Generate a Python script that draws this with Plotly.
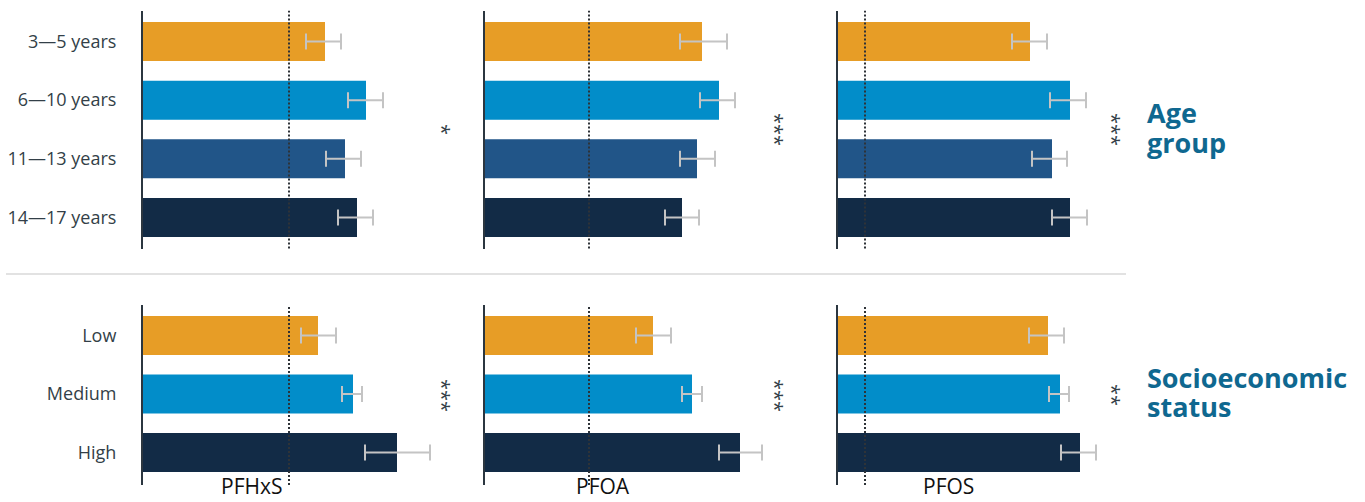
import plotly.graph_objects as go

# ---- data (concentration index, arbitrary units) ----
age_groups = ["3—5 years", "6—10 years", "11—13 years", "14—17 years"]
ses_groups = ["Low", "Medium", "High"]
chemicals = ["PFHxS", "PFOA", "PFOS"]

age_mean = {
    "PFHxS": [1.82, 2.23, 2.02, 2.14],
    "PFOA": [2.17, 2.34, 2.12, 1.97],
    "PFOS": [1.92, 2.32, 2.14, 2.32],
}
age_low = {
    "PFHxS": [1.63, 2.05, 1.83, 1.95],
    "PFOA": [1.95, 2.15, 1.95, 1.80],
    "PFOS": [1.74, 2.12, 1.94, 2.14],
}
age_high = {
    "PFHxS": [1.98, 2.40, 2.18, 2.30],
    "PFOA": [2.42, 2.50, 2.30, 2.14],
    "PFOS": [2.09, 2.48, 2.29, 2.49],
}
ses_mean = {
    "PFHxS": [1.75, 2.10, 2.54],
    "PFOA": [1.68, 2.07, 2.55],
    "PFOS": [2.10, 2.22, 2.42],
}
ses_low = {
    "PFHxS": [1.58, 1.99, 2.22],
    "PFOA": [1.51, 1.97, 2.34],
    "PFOS": [1.91, 2.11, 2.23],
}
ses_high = {
    "PFHxS": [1.93, 2.19, 2.87],
    "PFOA": [1.86, 2.17, 2.77],
    "PFOS": [2.26, 2.31, 2.58],
}
reference = {"PFHxS": 1.46, "PFOA": 1.04, "PFOS": 0.27}
age_signif = {"PFHxS": "*", "PFOA": "***", "PFOS": "***"}
ses_signif = {"PFHxS": "***", "PFOA": "***", "PFOS": "**"}

# ---- styling ----
W, H = 1365, 502
ORANGE, LIGHTBLUE, MIDBLUE, NAVY = "#E79D26", "#028DC9", "#215588", "#122B46"
age_colors = [ORANGE, LIGHTBLUE, MIDBLUE, NAVY]
ses_colors = [ORANGE, LIGHTBLUE, NAVY]
TEXT = "#333F48"
TEAL = "#0F6890"
ERR = "#C4C4C4"
FONT = "Open Sans"

panel_left = [143, 485, 838]   # px of each panel's value axis
panel_width = 300
x_range = [0, 3.0]
top_dom = [1 - 248.5 / H, 1 - 10.7 / H]
bot_dom = [1 - 485 / H, 1 - 305 / H]

fig = go.Figure()
layout = {}
shapes = []
annotations = []


def add_panel(idx, cats, means, lows, highs, colors):
    xa = f"x{idx}" if idx > 1 else "x"
    ya = f"y{idx}" if idx > 1 else "y"
    fig.add_trace(go.Bar(
        x=means, y=cats, orientation="h",
        marker=dict(color=colors, line=dict(width=0)),
        width=0.665,
        error_x=dict(
            type="data", symmetric=False,
            array=[h - m for h, m in zip(highs, means)],
            arrayminus=[m - l for m, l in zip(means, lows)],
            color=ERR, thickness=2, width=8,
        ),
        xaxis=xa, yaxis=ya, showlegend=False, hoverinfo="skip",
    ))
    return xa, ya


for row, (cats, means_d, lows_d, highs_d, colors, ydom, yrange) in enumerate([
    (age_groups, age_mean, age_low, age_high, age_colors, top_dom, [3.528, -0.525]),
    (ses_groups, ses_mean, ses_low, ses_high, ses_colors, bot_dom, [2.556, -0.521]),
]):
    for col, chem in enumerate(chemicals):
        idx = row * 3 + col + 1
        xa, ya = add_panel(idx, cats, means_d[chem], lows_d[chem], highs_d[chem], colors)
        xkey = "xaxis" if idx == 1 else f"xaxis{idx}"
        ykey = "yaxis" if idx == 1 else f"yaxis{idx}"
        layout[xkey] = dict(
            domain=[panel_left[col] / W, (panel_left[col] + panel_width) / W],
            range=x_range, visible=False, fixedrange=True, anchor=ya,
        )
        layout[ykey] = dict(
            domain=ydom, range=yrange, type="category",
            categoryorder="array", categoryarray=cats,
            showline=True, linecolor="#2B3640", linewidth=2,
            showgrid=False, zeroline=False, ticks="",
            showticklabels=(col == 0), ticklabelstandoff=21,
            tickfont=dict(family=FONT, size=18, color=TEXT),
            anchor=xa, fixedrange=True,
        )
        # reference level
        shapes.append(dict(
            type="line", xref=xa, yref=f"{ya} domain",
            x0=reference[chem], x1=reference[chem], y0=0, y1=1,
            line=dict(color="#2E3338", width=2, dash="2px,2px"),
            layer="above",
        ))

# significance markers
sig_x = [443, 776, 1113]
for col, chem in enumerate(chemicals):
    for yc, sig in [(129, age_signif[chem]), (395, ses_signif[chem])]:
        annotations.append(dict(
            xref="paper", yref="paper", x=sig_x[col] / W, y=1 - yc / H,
            text=sig, showarrow=False, textangle=90,
            xanchor="center", yanchor="middle",
            font=dict(family=FONT, size=20, color=TEXT),
        ))

# chemical names under the panels
for cx, chem in zip([251, 602.5, 948], chemicals):
    annotations.append(dict(
        xref="paper", yref="paper", x=cx / W, y=0,
        text=chem, showarrow=False, xanchor="center", yanchor="bottom",
        font=dict(family=FONT, size=21, color="#111111"),
    ))

# group headings
for text, yc in [("Age", 112.5), ("group", 142.5), ("Socioeconomic", 377.5), ("status", 406.5)]:
    annotations.append(dict(
        xref="paper", yref="paper", x=1145 / W, y=1 - yc / H,
        text=f"<b>{text}</b>", showarrow=False, xanchor="left", yanchor="middle",
        font=dict(family=FONT, size=27, color=TEAL),
    ))

# divider between the two groupings
shapes.append(dict(
    type="line", xref="paper", yref="paper",
    x0=6 / W, x1=1126 / W, y0=1 - 274 / H, y1=1 - 274 / H,
    line=dict(color="#D9D9D9", width=1.5),
))

fig.update_layout(
    width=W, height=H,
    margin=dict(l=0, r=0, t=0, b=0),
    paper_bgcolor="white", plot_bgcolor="white",
    shapes=shapes, annotations=annotations,
    barmode="overlay",
    **layout,
)

fig.write_html("out.html", include_plotlyjs=True, config={"displayModeBar": False})
